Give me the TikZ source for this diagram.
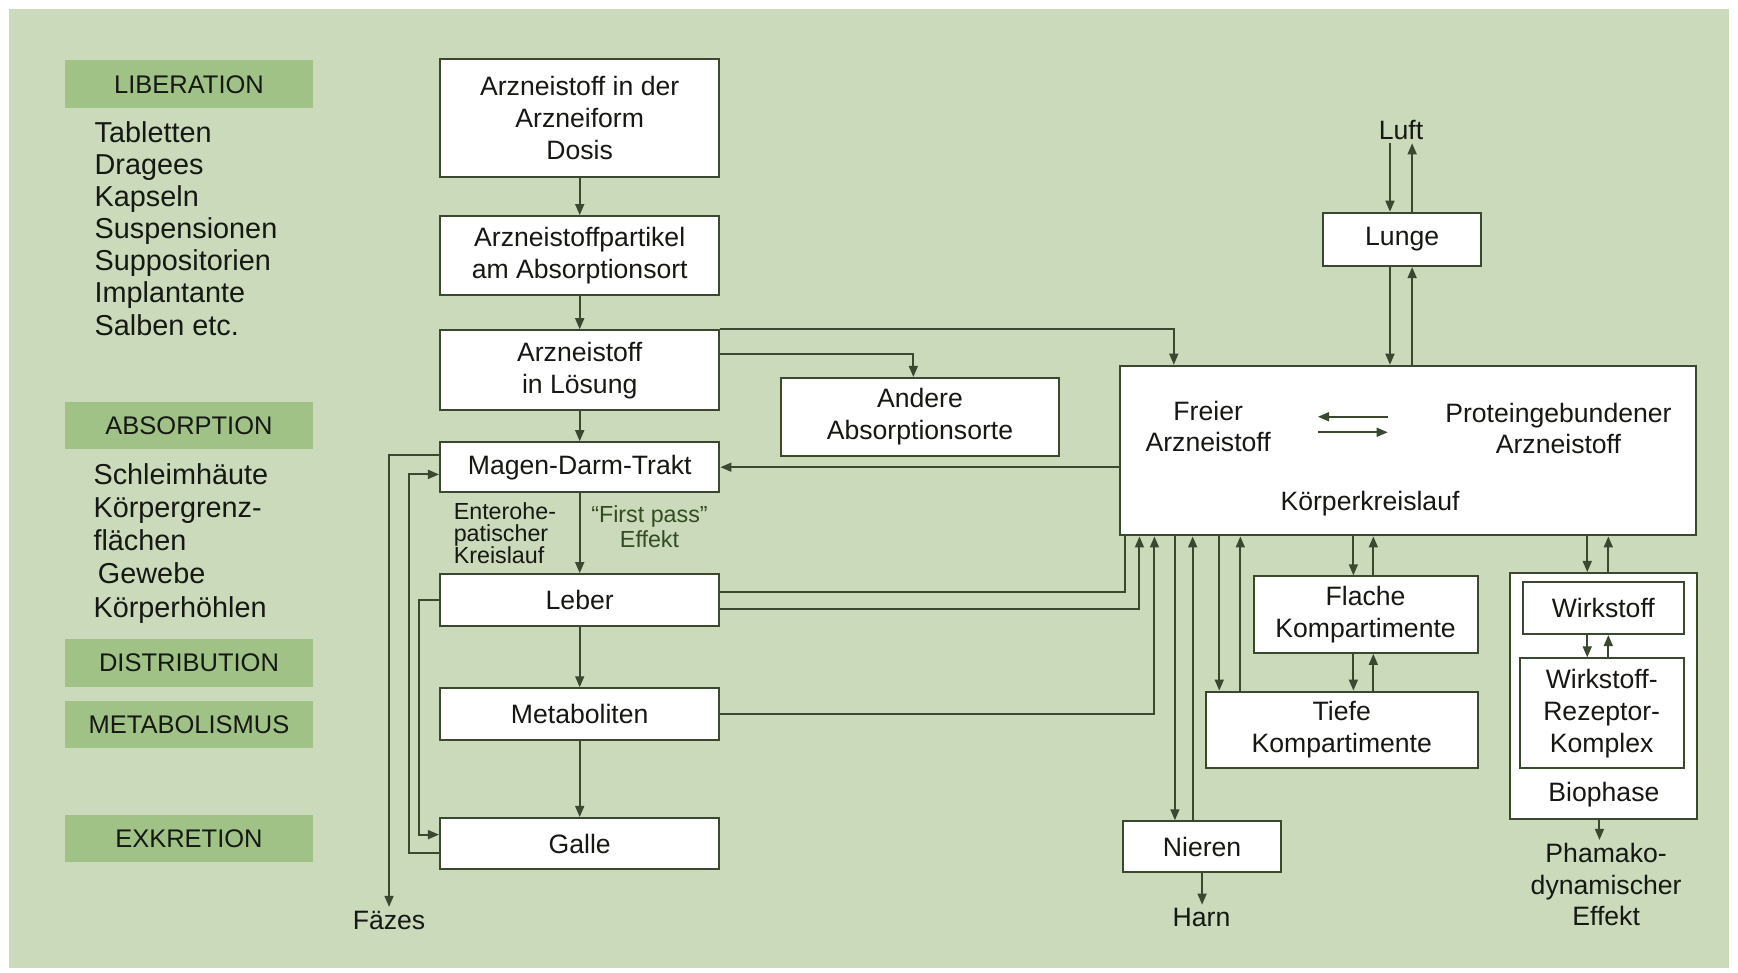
\documentclass[tikz,border=0pt]{standalone}
\usepackage{fontspec}
\setmainfont{Liberation Sans}
\usetikzlibrary{arrows.meta,calc}

\definecolor{sage}{RGB}{202,218,186}
\definecolor{leaf}{RGB}{160,194,134}
\definecolor{wire}{RGB}{58,72,48}
\definecolor{ink}{RGB}{22,24,20}
\definecolor{moss}{RGB}{52,76,36}

\begin{document}
\begin{tikzpicture}[
    x=0.5pt, y=-0.5pt,
    every node/.style={text=ink, inner sep=0pt},
    box/.style={rectangle, draw=wire, fill=white, line width=0.9pt, align=center,
        font=\fontsize{12}{14.4}\selectfont},
    phasebox/.style={rectangle, fill=leaf, minimum width=112pt, minimum height=21.5pt,
        font=\fontsize{11.5}{13}\selectfont},
    listtext/.style={anchor=west, align=left, font=\fontsize{13}{14.5}\selectfont},
    plaintext/.style={align=center, inner sep=1.5pt, font=\fontsize{12}{14}\selectfont},
    smalltext/.style={align=center, font=\fontsize{10.5}{10}\selectfont},
    link/.style={draw=wire, line width=0.9pt},
    arr/.style={link, -{Triangle[length=5pt, width=4pt]}}
]

\useasboundingbox (0,0) rectangle (1568,877);
\fill[sage] (8,8) rectangle (1560,873);

% phases on the left
\node[phasebox] (lib) at (170.5,76) {LIBERATION};
\node[listtext] (libitems) at (85,206) {Tabletten\\Dragees\\Kapseln\\Suspensionen\\Suppositorien\\Implantante\\Salben etc.};
\node[phasebox] (abs) at (170.5,384) {ABSORPTION};
\node[listtext, font=\fontsize{13}{15}\selectfont] (absitems) at (84,490) {Schleimhäute\\Körpergrenz-\\flächen\\\hspace{2pt}Gewebe\\Körperhöhlen};
\node[phasebox] (dist) at (170.5,598) {DISTRIBUTION};
\node[phasebox] (meta) at (170.5,653.5) {METABOLISMUS};
\node[phasebox] (excr) at (170.5,756.5) {EXKRETION};

% main column
\node[box, minimum width=126pt, minimum height=53.5pt] (dose) at (523,106.5) {Arzneistoff in der\\Arzneiform\\Dosis};
\node[box, minimum width=126pt, minimum height=35.5pt] (particle) at (523,230.5) {Arzneistoffpartikel\\am Absorptionsort};
\node[box, minimum width=126pt, minimum height=36pt] (solution) at (523,334) {Arzneistoff\\in Lösung};
\node[box, minimum width=126pt, minimum height=22.5pt] (gut) at (523,421.5) {Magen-Darm-Trakt};
\node[box, minimum width=126pt, minimum height=23.5pt] (liver) at (523,541.5) {Leber};
\node[box, minimum width=126pt, minimum height=23.5pt] (metab) at (523,644.5) {Metaboliten};
\node[box, minimum width=126pt, minimum height=23pt] (bile) at (523,761) {Galle};
\node[box, minimum width=125pt, minimum height=35pt] (other) at (830,376) {Andere\\Absorptionsorte};

% circulation and the rest
\node[box, minimum width=260pt, minimum height=76.5pt] (blood) at (1270,406.5) {};
\node[plaintext] (free) at (1090,385) {Freier\\Arzneistoff};
\node[plaintext] (bound) at (1406,387) {Proteingebundener\\Arzneistoff};
\node[plaintext] (circ) at (1236,454) {Körperkreislauf};
\node[box, minimum width=71pt, minimum height=24pt] (lung) at (1265,216) {Lunge};
\node[plaintext] (air) at (1264,117) {Luft};
\node[box, minimum width=101pt, minimum height=34.5pt] (flat) at (1232,554.5) {Flache\\Kompartimente};
\node[box, minimum width=122.5pt, minimum height=34.5pt] (deep) at (1210.5,658.5) {Tiefe\\Kompartimente};
\node[box, minimum width=71.5pt, minimum height=23pt] (kidney) at (1084.5,764) {Nieren};
\node[plaintext] (urine) at (1084,828) {Harn};
\node[box, minimum width=84.5pt, minimum height=111pt] (bio) at (1446.5,628) {};
\node[box, minimum width=72.5pt, minimum height=23.5pt] (drug) at (1446.5,548.5) {Wirkstoff};
\node[box, minimum width=74pt, minimum height=49.5pt] (complex) at (1445,643.5) {Wirkstoff-\\Rezeptor-\\Komplex};
\node[plaintext] (biotext) at (1447,717) {Biophase};
\node[plaintext] (effect) at (1449,798) {Phamako-\\dynamischer\\Effekt};
\node[plaintext] (faeces) at (351,830) {Fäzes};

\node[smalltext, anchor=west, align=left] (entero) at (409,481) {Enterohe-\\patischer\\Kreislauf};
\node[smalltext, text=moss, font=\fontsize{10.5}{11.5}\selectfont] (firstpass) at (586,475) {“First pass”\\Effekt};

\coordinate (eqL) at (1189,383);
\coordinate (eqR) at (1252,383);

% connectors
\foreach \a/\b in {dose/particle, particle/solution, solution/gut, gut/liver, liver/metab, metab/bile}
    \draw[arr] (\a) -- (\b);

\draw[arr] (solution.north east) -| (1059,0 |- blood.north);
\draw[arr] ($(solution.east)+(0,-15)$) -| ($(other.north)+(-6,0)$);
\draw[arr] (blood.west |- gut.east) -- (gut.east);

\draw[link] ($(liver.east)+(0,-7.5)$) -| (1015,0 |- blood.south);
\draw[arr] ($(liver.east)+(0,7.5)$) -| (1028,0 |- blood.south);
\draw[arr] (metab.east) -| (1041.5,0 |- blood.south);

\draw[arr] (gut.west) ++(0,-11) -| (faeces.north);
\draw[arr] ($(bile.west)+(0,9)$) -- ++(-27,0) |- ($(gut.west)+(0,6.5)$);
\draw[arr] (liver.west) -- ++(-18,0) |- ($(bile.west)+(0,-8)$);

\draw[arr] ([yshift=3.5pt]eqR) -- ([yshift=3.5pt]eqL);
\draw[arr] ([yshift=-3.5pt]eqL) -- ([yshift=-3.5pt]eqR);

\draw[arr] (1254,0 |- air.south) -- (1254,0 |- lung.north);
\draw[arr] (1274,0 |- lung.north) -- (1274,0 |- air.south);
\draw[arr] (1254,0 |- lung.south) -- (1254,0 |- blood.north);
\draw[arr] (1274,0 |- blood.north) -- (1274,0 |- lung.south);

\draw[arr] (1060,0 |- blood.south) -- (1060,0 |- kidney.north);
\draw[arr] (1076,0 |- kidney.north) -- (1076,0 |- blood.south);
\draw[arr] (kidney.south) -- (kidney.south |- urine.north);

\draw[arr] (1100,0 |- blood.south) -- (1100,0 |- deep.north);
\draw[arr] (1119,0 |- deep.north) -- (1119,0 |- blood.south);
\draw[arr] (1221,0 |- blood.south) -- (1221,0 |- flat.north);
\draw[arr] (1239,0 |- flat.north) -- (1239,0 |- blood.south);
\draw[arr] (1221,0 |- flat.south) -- (1221,0 |- deep.north);
\draw[arr] (1239,0 |- deep.north) -- (1239,0 |- flat.south);

\draw[arr] (1432,0 |- blood.south) -- (1432,0 |- bio.north);
\draw[arr] (1451,0 |- bio.north) -- (1451,0 |- blood.south);
\draw[arr] (1432,0 |- drug.south) -- (1432,0 |- complex.north);
\draw[arr] (1451,0 |- complex.north) -- (1451,0 |- drug.south);
\draw[arr] (1443,0 |- bio.south) -- (1443,0 |- effect.north);

\end{tikzpicture}
\end{document}
